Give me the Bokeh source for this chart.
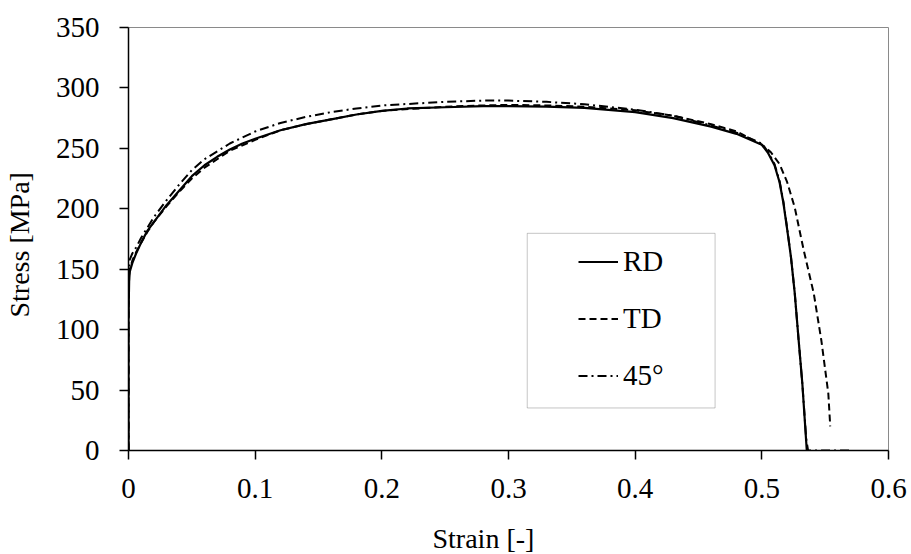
from bokeh.plotting import figure
from bokeh.models import (ColumnDataSource, Legend, LegendItem, FixedTicker,
                          BoxAnnotation, Title, Range1d)
from bokeh.embed import file_html
from bokeh.resources import INLINE

# ---------------- data ----------------
rd_strain = [0.0, 0.0, 0.0005, 0.001, 0.003, 0.006, 0.01, 0.015, 0.02, 0.025, 0.03,
             0.04, 0.05, 0.06, 0.07, 0.08, 0.09, 0.10, 0.12, 0.14, 0.16, 0.18, 0.20,
             0.22, 0.25, 0.28, 0.30, 0.33, 0.36, 0.40, 0.43, 0.46, 0.48, 0.50, 0.505,
             0.51, 0.514, 0.517, 0.52, 0.523, 0.526, 0.529, 0.532, 0.5355]
rd_stress = [0, 110, 140, 148, 155, 163, 172, 182, 189, 196, 203,
             215, 227, 236, 243, 249, 254, 258, 265, 270, 274, 278, 281,
             283, 284, 285, 285, 284.5, 283.5, 280, 275, 268, 262, 253, 246,
             236, 222, 205, 183, 160, 130, 92, 55, 0]

td_strain = [0.0, 0.0, 0.0005, 0.001, 0.003, 0.006, 0.01, 0.015, 0.02, 0.03, 0.04,
             0.05, 0.06, 0.08, 0.10, 0.12, 0.14, 0.16, 0.18, 0.20, 0.25, 0.28,
             0.30, 0.33, 0.36, 0.40, 0.43, 0.46, 0.48, 0.50, 0.507, 0.514, 0.52,
             0.526, 0.533, 0.541, 0.547, 0.5525, 0.554]
td_stress = [0, 115, 145, 150, 157, 164, 172, 181, 189, 202, 214,
             225, 234, 248, 257, 265, 270, 274, 278, 281, 284.5, 285.5,
             286, 285.5, 284.5, 281.5, 277, 270, 264, 253, 247, 237, 222,
             201, 166, 130, 91, 47, 20]

d45_strain = [0.0, 0.0, 0.0005, 0.001, 0.003, 0.006, 0.01, 0.02, 0.03, 0.04, 0.05,
              0.06, 0.08, 0.10, 0.12, 0.14, 0.16, 0.18, 0.20, 0.25, 0.28, 0.30,
              0.33, 0.36, 0.40, 0.43, 0.46, 0.48, 0.50, 0.505, 0.51, 0.514, 0.517,
              0.52, 0.523, 0.526, 0.529, 0.532, 0.535, 0.5365, 0.572]
d45_stress = [0, 120, 150, 158, 163, 168, 176, 193, 207, 220, 232,
              241, 254, 264, 271, 276, 280, 283, 285.5, 288.5, 289.5, 289.5,
              288.5, 286.5, 282, 277, 269, 263, 254, 247, 237, 223, 206,
              184, 160, 130, 92, 55, 10, 0, 0]

series_names = ["RD", "TD", "45°"]

x_ticks = [0, 0.1, 0.2, 0.3, 0.4, 0.5, 0.6]
x_tick_labels = ["0", "0.1", "0.2", "0.3", "0.4", "0.5", "0.6"]
y_ticks = [0, 50, 100, 150, 200, 250, 300, 350]

# legend frame (in axis units)
legend_box = dict(left=0.3148, right=0.4631, bottom=35.2, top=179.7)

FONT = "Liberation Serif"

p = figure(width=911, height=554, output_backend="svg", toolbar_location=None,
           x_range=Range1d(0, 0.6), y_range=Range1d(0, 350),
           min_border_left=128, min_border_right=23, min_border_top=27,
           min_border_bottom=103)

p.background_fill_color = "white"
p.border_fill_color = "white"
p.outline_line_color = "#8a8a8a"
p.outline_line_width = 1
p.xgrid.visible = False
p.ygrid.visible = False

for ax in (p.xaxis[0], p.yaxis[0]):
    ax.axis_line_color = "black"
    ax.axis_line_width = 1.5
    ax.major_tick_line_color = "black"
    ax.major_tick_line_width = 1.5
    ax.major_tick_out = 9
    ax.major_tick_in = 0
    ax.minor_tick_line_color = None
    ax.major_label_text_font = FONT
    ax.major_label_text_font_size = "29px"
    ax.major_label_text_color = "black"

p.xaxis.ticker = FixedTicker(ticks=x_ticks)
p.xaxis.major_label_overrides = {t: l for t, l in zip(x_ticks, x_tick_labels)}
p.yaxis.ticker = FixedTicker(ticks=y_ticks)
p.xaxis.major_label_standoff = 19
p.yaxis.major_label_standoff = 20

# tiny blank axis labels used only as spacing outside the tick labels
p.xaxis.axis_label = " "
p.xaxis.axis_label_text_font_size = "1px"
p.xaxis.axis_label_standoff = 15
p.yaxis.axis_label = " "
p.yaxis.axis_label_text_font_size = "1px"
p.yaxis.axis_label_standoff = 10

src_rd = ColumnDataSource(dict(x=rd_strain, y=rd_stress))
src_td = ColumnDataSource(dict(x=td_strain, y=td_stress))
src_45 = ColumnDataSource(dict(x=d45_strain, y=d45_stress))

r45 = p.line("x", "y", source=src_45, line_color="black", line_width=2,
             line_dash="9 4 2 4")
rtd = p.line("x", "y", source=src_td, line_color="black", line_width=2,
             line_dash="7 4")
rrd = p.line("x", "y", source=src_rd, line_color="black", line_width=2.2)

box = BoxAnnotation(left=legend_box["left"], right=legend_box["right"],
                    bottom=legend_box["bottom"], top=legend_box["top"],
                    fill_color="white", fill_alpha=1.0,
                    line_color="#404040", line_width=1)
p.add_layout(box)

legend = Legend(items=[LegendItem(label=series_names[0], renderers=[rrd]),
                       LegendItem(label=series_names[1], renderers=[rtd]),
                       LegendItem(label=series_names[2], renderers=[r45])],
                location=(450, 46), orientation="vertical",
                glyph_width=40, glyph_height=57, spacing=0, padding=0, margin=0,
                label_standoff=5, label_text_font=FONT,
                label_text_font_size="29px", label_text_color="black",
                border_line_alpha=0, background_fill_alpha=0)
p.add_layout(legend, "center")

# axis titles
xt = Title(text="Strain [-]", align="left", offset=304, text_font=FONT,
           text_font_style="normal", text_font_size="28px", text_color="black",
           standoff=2)
p.add_layout(xt, "below")
yt = Title(text="Stress [MPa]", align="left", offset=133, text_font=FONT,
           text_font_style="normal", text_font_size="28px", text_color="black",
           standoff=4, vertical_align="top")
p.add_layout(yt, "left")

open("out.html", "w").write(file_html(p, INLINE))
